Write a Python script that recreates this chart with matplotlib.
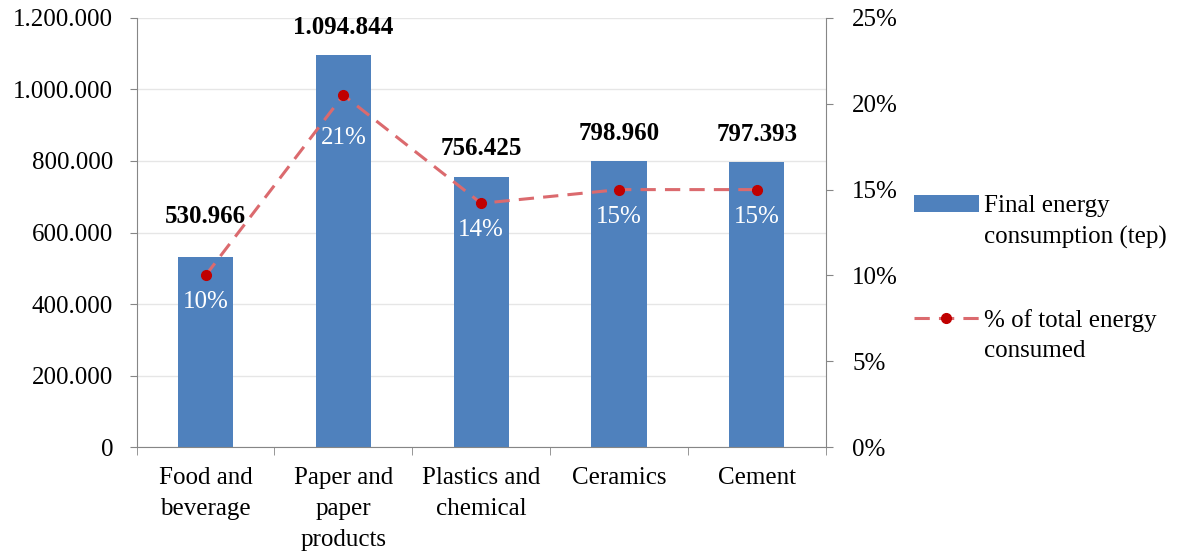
import numpy as np
import matplotlib
matplotlib.use("Agg")
import matplotlib.pyplot as plt
from matplotlib.ticker import FuncFormatter, FixedLocator

categories = ["Food and\nbeverage", "Paper and\npaper\nproducts", "Plastics and\nchemical", "Ceramics", "Cement"]
energy_tep = [530966, 1094844, 756425, 798960, 797393]
share_pct  = [10.0, 20.5, 14.2, 15.0, 15.0]
share_lbl  = ["10%", "21%", "14%", "15%", "15%"]

BAR_COLOR  = "#4F81BD"
LINE_COLOR = "#DB6A6E"
DOT_COLOR  = "#C00000"
AXIS_GRAY  = "#868686"
FS = 18

plt.rcParams["font.family"] = ["Liberation Serif", "DejaVu Serif"]


def dotted(v, _=None):
    return f"{int(round(v)):,}".replace(",", ".")


fig = plt.figure(figsize=(11.78, 5.57), dpi=100)
ax = fig.add_axes([0.116, 0.197, 0.585, 0.771])
ax2 = ax.twinx()

x = np.arange(len(categories))
bars = ax.bar(x, energy_tep, width=0.4, color=BAR_COLOR, zorder=2,
              label="Final energy\nconsumption (tep)")
ax.set_xlim(-0.5, len(categories) - 0.5)
ax.set_ylim(0, 1200000)
ax.set_yticks(np.arange(0, 1200001, 200000))
ax.yaxis.set_major_formatter(FuncFormatter(dotted))
ax.grid(axis="y", color="#E6E6E6", lw=1, zorder=0)
ax.set_axisbelow(True)

ax.set_xticks(x)
ax.set_xticklabels(categories, fontsize=FS, linespacing=1.55)
ax.xaxis.set_minor_locator(FixedLocator(np.arange(-0.5, len(categories), 1.0)))
ax.tick_params(axis="x", which="major", length=0, pad=14)
ax.tick_params(axis="x", which="minor", length=6, color=AXIS_GRAY)
ax.tick_params(axis="y", labelsize=FS, length=5, color=AXIS_GRAY, pad=12)

for s in ["top", "right"]:
    ax.spines[s].set_visible(False)
for s in ["left", "bottom"]:
    ax.spines[s].set_color(AXIS_GRAY)

# value labels above the bars
bar_lbl_off = [29, 20, 20, 20, 20]
for xi, v, off in zip(x, energy_tep, bar_lbl_off):
    ax.annotate(dotted(v), (xi, v), xytext=(0, off), textcoords="offset points",
                ha="center", va="center", fontsize=FS, fontweight="bold")

line, = ax2.plot(x, share_pct, color=LINE_COLOR, lw=2.2, ls=(0, (5, 3)),
                 marker="o", markersize=7, markerfacecolor=DOT_COLOR,
                 markeredgecolor=DOT_COLOR, zorder=3,
                 label="% of total energy\nconsumed")
ax2.set_ylim(0, 25)
ax2.set_yticks(np.arange(0, 26, 5))
ax2.yaxis.set_major_formatter(FuncFormatter(lambda v, _: f"{int(v)}%"))
ax2.tick_params(axis="y", labelsize=FS, length=5, color=AXIS_GRAY, pad=14)
for s in ["top", "left", "bottom"]:
    ax2.spines[s].set_visible(False)
ax2.spines["right"].set_color(AXIS_GRAY)

pct_lbl_off = [-19, -31, -19, -20, -20]
for xi, p, t, off in zip(x, share_pct, share_lbl, pct_lbl_off):
    ax2.annotate(t, (xi, p), xytext=(0, off), textcoords="offset points",
                 ha="center", va="center", fontsize=FS, color="white")

leg = fig.legend([bars, line], [bars.get_label(), line.get_label()],
                 loc="upper left", bbox_to_anchor=(0.767, 0.668), frameon=False,
                 fontsize=FS, handlelength=2.6, handletextpad=0.2,
                 labelspacing=2.4, borderaxespad=0)
for t in leg.get_texts():
    t.set_linespacing(1.5)
# keep the legend keys level with the first line of each label, as Excel does
for col in leg._legend_handle_box.get_children():
    for item in col.get_children():
        item.align = "top"

fig.savefig("out.png", dpi=100)
